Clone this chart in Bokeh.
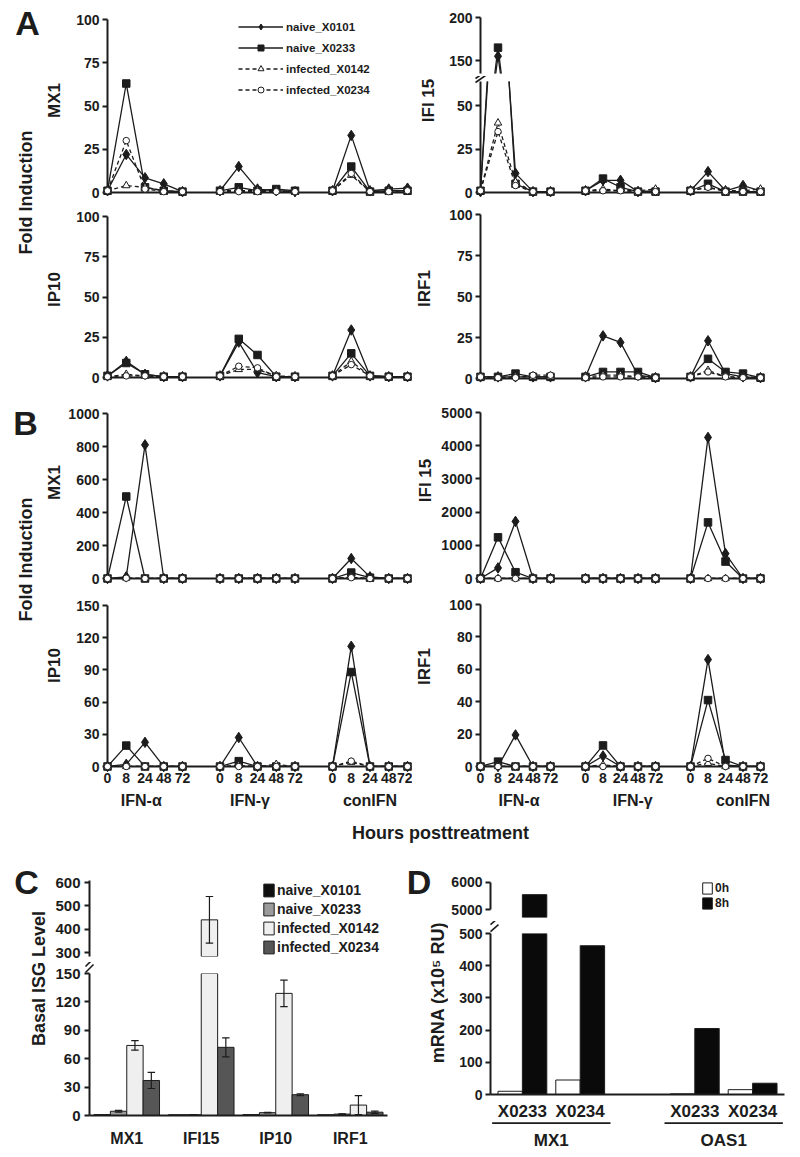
import math
from bokeh.plotting import figure
from bokeh.models import (Range1d, FixedTicker, LinearAxis, Legend, LegendItem,
                          ColumnDataSource, FactorRange, CDSView, BooleanFilter)
from bokeh.layouts import row, column
from bokeh.transform import dodge
from bokeh.core.properties import value
from bokeh.embed import file_html
from bokeh.resources import INLINE

FONT = "Liberation Sans"
INK = "#1c1c1c"

# ---------------------------------------------------------------- data
treatments = ["IFN-α", "IFN-γ", "conIFN"]
hours = ["0", "8", "24", "48", "72"]
series = ["naive_X0101", "naive_X0233", "infected_X0142", "infected_X0234"]

# values ordered IFN-α 0,8,24,48,72 | IFN-γ 0..72 | conIFN 0..72
A_MX1 = {
    "naive_X0101":    [1, 22, 8.5, 5, 0.5,   1, 15, 2, 1, 0.5,        1, 33, 1, 2, 2.5],
    "naive_X0233":    [1, 63, 3, 1, 0.5,     1, 3, 1, 2, 1,           1, 15, 0.5, 1, 1],
    "infected_X0142": [1, 4, 3, 1, 0.5,      1, 1, 1, 1, 0.5,         1, 10, 0.5, 1, 1],
    "infected_X0234": [1, 30, 2, 0.5, 0.5,   0.5, 0.5, 0.5, 0.5, 0.5, 1, 11, 0.5, 0.5, 1],
}
A_IFI15 = {
    "naive_X0101":    [0.5, 155, 11, 0.5, 0.5, 1, 7, 7, 0.5, 1,       1, 12, 1, 4, 1],
    "naive_X0233":    [1, 165, 5, 0.5, 0.5,    1, 8, 3, 0.5, 0.5,     1, 5, 0.5, 0.5, 0.5],
    "infected_X0142": [1, 40, 6, 0.5, 0.5,     1, 2, 1, 1, 2,         1, 3, 1, 1, 2],
    "infected_X0234": [1, 35, 4, 0.5, 0.5,     1, 1, 1, 0.5, 0.5,     1, 3, 0.5, 0.5, 0.5],
}
A_IP10 = {
    "naive_X0101":    [1, 10, 2, 0.5, 0.5,   1, 22, 3, 0.5, 0.5,      1, 29.5, 1, 0.5, 0.5],
    "naive_X0233":    [1, 9, 2, 0.5, 0.5,    1, 24, 14, 0.5, 0.5,     1, 15, 1, 0.5, 0.5],
    "infected_X0142": [0.5, 2, 1, 0.5, 0.5,  1, 5, 5, 1, 0.5,         1, 10, 1, 0.5, 0.5],
    "infected_X0234": [0.5, 1, 1, 0.5, 0.5,  1, 7, 6, 0.5, 0.5,       1, 8, 1, 0.5, 0.5],
}
A_IRF1 = {
    "naive_X0101":    [1, 1, 1, 1, 1,        1, 26, 22, 2, 0.5,       1, 23, 3, 1, 0.5],
    "naive_X0233":    [1, 1, 3, 1, 1,        1, 4, 4, 4, 0.5,         1, 12, 4, 3, 0.5],
    "infected_X0142": [0.5, 0.5, 1, 1, 1,    1, 2, 2, 1, 0.5,         1, 5, 1, 1, 0.5],
    "infected_X0234": [1, 0.5, 0.5, 2, 2,    0.5, 1, 1, 1, 0.5,       1, 4, 1, 0.5, 0.5],
}
B_MX1 = {
    "naive_X0101":    [0, 10, 810, 0, 0,     0, 0, 0, 0, 0,           0, 121, 10, 0, 0],
    "naive_X0233":    [0, 497, 0, 0, 0,      0, 0, 0, 0, 0,           0, 36, 5, 0, 0],
    "infected_X0142": [0, 3, 0, 0, 0,        0, 0, 0, 0, 0,           0, 8, 0, 0, 0],
    "infected_X0234": [0, 2, 0, 0, 0,        0, 0, 0, 0, 0,           0, 5, 0, 0, 0],
}
B_IFI15 = {
    "naive_X0101":    [0, 320, 1720, 0, 0,   0, 0, 0, 0, 0,           0, 4250, 750, 0, 0],
    "naive_X0233":    [0, 1240, 190, 0, 0,   0, 0, 0, 0, 0,           0, 1690, 510, 0, 0],
    "infected_X0142": [0, 0, 0, 0, 0,        0, 0, 0, 0, 0,           0, 0, 0, 0, 0],
    "infected_X0234": [0, 0, 0, 0, 0,        0, 0, 0, 0, 0,           0, 0, 0, 0, 0],
}
B_IP10 = {
    "naive_X0101":    [0, 2, 22.5, 0, 0,     0, 27, 0, 0, 0,          0, 112, 0, 0, 0],
    "naive_X0233":    [0, 19.5, 0, 0, 0,     0, 5, 0, 0, 0,           0, 88, 0, 0, 0],
    "infected_X0142": [0, 0, 0, 0, 0,        0, 1, 0, 2, 0,           0, 4, 0, 0, 0],
    "infected_X0234": [0, 0, 0, 0, 0,        0, 0, 0, 0, 0,           0, 5, 0, 0, 0],
}
B_IRF1 = {
    "naive_X0101":    [0, 0, 19.5, 0, 0,     0, 6.5, 0, 0, 0,         0, 66, 1, 0, 0],
    "naive_X0233":    [0, 3, 0, 0, 0,        0, 13, 0, 0, 0,          0, 41, 4, 0, 0],
    "infected_X0142": [0, 0, 0, 0, 0,        0, 1, 0, 0, 0,           0, 2, 0, 0, 0],
    "infected_X0234": [0, 0, 0, 0, 0,        0, 0, 0, 0, 0,           0, 5, 0, 0, 0],
}

genes_C = ["MX1", "IFI15", "IP10", "IRF1"]
basal_naive_X0101 = [1.0, 0.8, 1.0, 0.8]
basal_naive_X0233 = [4.5, 0.8, 3.0, 1.5]
basal_infected_X0142 = [74, 440, 129, 11]
basal_infected_X0234 = [37, 72, 22, 3.5]
err_naive_X0101 = [0, 0, 0, 0]
err_naive_X0233 = [1.0, 0, 0.3, 0.3]
err_infected_X0142 = [5, 100, 14, 10]
err_infected_X0234 = [8.5, 10, 1, 1.2]

genes_D = ["MX1", "OAS1"]
animals_D = ["X0233", "X0234"]
mrna_0h = [10, 45, 2, 15]
mrna_8h = [5550, 462, 205, 35]

# ---------------------------------------------------------------- helpers
x_idx = [t * 6 + h for t in range(len(treatments)) for h in range(len(hours))]

STYLE = {
    "naive_X0101": dict(marker="diamond", size=10.5, fill=INK, dash="solid"),
    "naive_X0233": dict(marker="square", size=7.5, fill=INK, dash="solid"),
    "infected_X0142": dict(marker="triangle", size=7.5, fill="white", dash="4 3"),
    "infected_X0234": dict(marker="circle", size=6.5, fill="white", dash="4 3"),
}


def make_fig(canvas, frame, xr, yr, px=True):
    """canvas / frame given as page-pixel boxes (x0, y0, x1, y1)."""
    cx0, cy0, cx1, cy1 = canvas
    fx0, fy0, fx1, fy1 = frame
    p = figure(width=cx1 - cx0, height=cy1 - cy0, x_range=xr, y_range=yr, title=None,
               output_backend="svg", toolbar_location=None, tools="",
               min_border_left=fx0 - cx0, min_border_right=cx1 - fx1,
               min_border_top=fy0 - cy0, min_border_bottom=cy1 - fy1)
    p.outline_line_color = None
    p.grid.visible = False
    if px:
        p.extra_x_ranges = {"px": Range1d(fx0, fx1)}
    p.extra_y_ranges = {"py": Range1d(fy1, fy0)}
    return p


def style_axis(ax, fs="14px"):
    ax.axis_line_color = INK
    ax.axis_line_width = 2
    ax.major_tick_line_color = INK
    ax.major_tick_line_width = 2
    ax.major_tick_in = 0
    ax.major_tick_out = 5
    ax.minor_tick_line_color = None
    ax.major_label_text_font = FONT
    ax.major_label_text_font_style = "bold"
    ax.major_label_text_font_size = fs
    ax.major_label_text_color = INK
    ax.major_label_standoff = 3


def with_breaks(vals):
    xs, ys = [], []
    for t in range(len(treatments)):
        for h in range(len(hours)):
            xs.append(t * 6 + h)
            ys.append(vals[t * len(hours) + h])
        if t < len(treatments) - 1:
            xs.append(float("nan"))
            ys.append(float("nan"))
    return xs, ys


def text_kw(size):
    return dict(text_align="center", text_baseline="middle", text_font=value(FONT),
                text_font_size=size, text_font_style="bold", text_color=INK)


def mark(p, x0, y0, x1, y1, **kw):
    p.segment(x0=x0, y0=y0, x1=x1, y1=y1, y_range_name="py", level="overlay",
              line_color=INK, line_width=1.6, **kw)


LEFT = (40, 107, 410, 412, 18.75)    # canvas x0, frame x0, frame x1, canvas x1, px per step
RIGHT = (412, 480, 763, 800, 17.5)


def line_panel(data, side, cy0, fy0, fy1, cy1, yr, yticks, label=None, label_xy=None,
               xlabels=False, grp_pos=None, hide_x=False):
    cx0, fx0, fx1, cx1, unit = side
    p = make_fig((cx0, cy0, cx1, cy1), (fx0, fy0, fx1, fy1),
                 Range1d(0, (fx1 - fx0) / unit), Range1d(*yr))
    items = []
    for name in series:
        st = STYLE[name]
        xs, ys = with_breaks(data[name])
        rl = p.line(xs, ys, line_color=INK, line_width=1.3, line_dash=st["dash"])
        rm = p.scatter(x_idx, data[name], marker=st["marker"], size=st["size"],
                       fill_color=st["fill"], line_color=INK, line_width=1,
                       level="overlay")
        items.append(LegendItem(label=name, renderers=[rl, rm]))
    ya = p.yaxis[0]
    style_axis(ya)
    ya.ticker = FixedTicker(ticks=yticks)
    if label:
        p.text(x=[label_xy[0]], y=[label_xy[1]], text=[label], angle=math.pi / 2,
               x_range_name="px", y_range_name="py", level="overlay", **text_kw("17px"))
    xa = p.xaxis[0]
    if hide_x:
        xa.visible = False
    else:
        style_axis(xa)
        xa.major_tick_out = 0
        xa.major_tick_line_color = None
        if xlabels:
            xa.ticker = FixedTicker(ticks=x_idx)
            xa.major_label_overrides = {x: hours[i % len(hours)] for i, x in enumerate(x_idx)}
            xa.major_label_standoff = 6
            ga = LinearAxis(ticker=FixedTicker(ticks=grp_pos),
                            major_label_overrides=dict(zip(grp_pos, treatments)))
            style_axis(ga, "16px")
            ga.axis_line_color = None
            ga.major_tick_line_color = None
            ga.major_tick_out = 0
            ga.major_label_standoff = 6
            p.add_layout(ga, "below")
        else:
            xa.ticker = FixedTicker(ticks=[])
    return p, items


def strip(x0, x1, y0, y1):
    p = figure(width=x1 - x0, height=y1 - y0, x_range=Range1d(x0, x1), y_range=Range1d(y1, y0),
               x_axis_type=None, y_axis_type=None, title=None, output_backend="svg",
               toolbar_location=None, tools="", min_border=0)
    p.outline_line_color = None
    return p


def put_text(p, x, y, txt, size, angle=0.0):
    p.text(x=[x], y=[y], text=[txt], angle=angle, **text_kw(size))


def style_legend(lg, gw, gh, lh, spacing, fs, standoff):
    lg.border_line_color = None
    lg.background_fill_alpha = 0
    lg.padding = 0
    lg.margin = 0
    lg.spacing = spacing
    lg.glyph_width = gw
    lg.glyph_height = gh
    lg.label_height = lh
    lg.label_standoff = standoff
    lg.label_text_font = FONT
    lg.label_text_font_size = fs
    lg.label_text_font_style = "bold"
    lg.label_text_color = INK


# ---------------------------------------------------------------- panels A / B
A_MX1_p, leg_items = line_panel(A_MX1, LEFT, 0, 19, 192, 202, (0, 100), [0, 25, 50, 75, 100],
                                "MX1", (53.5, 100))
lg = Legend(items=leg_items, location=(131, 95))
style_legend(lg, 45, 15, 15, 6, "11.5px", 3)
A_MX1_p.add_layout(lg)

A_IP10_p, _ = line_panel(A_IP10, LEFT, 202, 216, 377, 392, (0, 100), [0, 25, 50, 75, 100],
                         "IP10", (53.5, 289))
B_MX1_p, _ = line_panel(B_MX1, LEFT, 392, 413, 578, 590, (0, 1000), [0, 200, 400, 600, 800, 1000],
                        "MX1", (53.5, 482))
B_IP10_p, _ = line_panel(B_IP10, LEFT, 590, 605, 766, 816, (0, 150), [0, 30, 60, 90, 120, 150],
                         "IP10", (53.5, 665), xlabels=True, grp_pos=[1.8, 7.6, 14.0])

A_IFI_up, _ = line_panel(A_IFI15, RIGHT, 0, 17, 73, 76, (135, 200), [150, 200], hide_x=True)
A_IFI_lo, _ = line_panel(A_IFI15, RIGHT, 76, 81, 192, 202, (0, 63.8), [0, 25, 50],
                         "IFI 15", (427.5, 100))
mark(A_IFI_lo, [475, 475], [78, 82], [485, 485], [71, 75], x_range_name="px")
A_IRF1_p, _ = line_panel(A_IRF1, RIGHT, 202, 214, 378, 392, (0, 100), [0, 25, 50, 75, 100],
                         "IRF1", (423.5, 288))
B_IFI15_p, _ = line_panel(B_IFI15, RIGHT, 392, 412, 578, 590, (0, 5000),
                          [0, 1000, 2000, 3000, 4000, 5000], "IFI 15", (425, 480))
B_IRF1_p, _ = line_panel(B_IRF1, RIGHT, 590, 604, 766, 816, (0, 100), [0, 20, 40, 60, 80, 100],
                         "IRF1", (423.5, 666), xlabels=True, grp_pos=[2.2, 8.7, 15.0])

strip_AB = strip(0, 40, 0, 816)
put_text(strip_AB, 27, 22, "A", "34px")
put_text(strip_AB, 25, 422, "B", "34px")
put_text(strip_AB, 25.5, 192, "Fold Induction", "18px", math.pi / 2)
put_text(strip_AB, 25.5, 559, "Fold Induction", "18px", math.pi / 2)

hours_strip = strip(0, 800, 816, 843)
put_text(hours_strip, 440, 832, "Hours posttreatment", "18px")

# ---------------------------------------------------------------- panel C
xr_C = FactorRange(*genes_C, range_padding=0)
C_OFF = [-0.33, -0.11, 0.11, 0.33]
C_W = 0.22
C_COL = ["#101010", "#9b9b9b", "#efefef", "#565656"]
c_vals = [basal_naive_X0101, basal_naive_X0233, basal_infected_X0142, basal_infected_X0234]
c_errs = [err_naive_X0101, err_naive_X0233, err_infected_X0142, err_infected_X0234]
c_data = dict(gene=genes_C)
for k, name in enumerate(series):
    c_data[name] = c_vals[k]
    c_data[name + "_lo"] = [v - e for v, e in zip(c_vals[k], c_errs[k])]
    c_data[name + "_hi"] = [v + e for v, e in zip(c_vals[k], c_errs[k])]
src_C = ColumnDataSource(c_data)


def c_draw(p, floor):
    proxies = []
    for k, name in enumerate(series):
        kw = dict(x=dodge("gene", C_OFF[k], range=xr_C), top=name, bottom=0, width=C_W,
                  source=src_C, fill_color=C_COL[k], line_color=INK, line_width=1)
        view = CDSView(filter=BooleanFilter([v > floor for v in c_vals[k]]))
        p.vbar(view=view, **kw)
        proxies.append(p.vbar(visible=False, **kw))   # legend swatch only
    for k, name in enumerate(series):
        if max(c_errs[k]) == 0:
            continue
        view = CDSView(filter=BooleanFilter([v + e > floor for v, e in zip(c_vals[k], c_errs[k])]))
        p.segment(x0=dodge("gene", C_OFF[k], range=xr_C), y0=name + "_lo",
                  x1=dodge("gene", C_OFF[k], range=xr_C), y1=name + "_hi",
                  source=src_C, view=view, line_color=INK, line_width=1.2)
        for end in ("_lo", "_hi"):
            p.segment(x0=dodge("gene", C_OFF[k] - 0.05, range=xr_C), y0=name + end,
                      x1=dodge("gene", C_OFF[k] + 0.05, range=xr_C), y1=name + end,
                      source=src_C, view=view, line_color=INK, line_width=1.2)
    return proxies


C_up = make_fig((48, 843, 400, 962), (89, 880, 387, 956), xr_C, Range1d(283, 608.6), px=False)
c_rs = c_draw(C_up, 283)
style_axis(C_up.yaxis[0], "15px")
C_up.yaxis[0].ticker = FixedTicker(ticks=[300, 400, 500, 600])
C_up.yaxis[0].major_label_standoff = 4
C_up.xaxis.visible = False
lgc = Legend(items=[LegendItem(label=n, renderers=[r]) for n, r in zip(series, c_rs)],
             location=(173, 1))
style_legend(lgc, 13, 16, 16, 3, "14px", 2)
C_up.add_layout(lgc)

C_lo = make_fig((48, 962, 400, 1152), (89, 973, 387, 1115), xr_C, Range1d(0, 150), px=False)
c_draw(C_lo, -1)
style_axis(C_lo.yaxis[0], "15px")
C_lo.yaxis[0].ticker = FixedTicker(ticks=[0, 30, 60, 90, 120, 150])
C_lo.yaxis[0].major_label_standoff = 4
style_axis(C_lo.xaxis[0], "16px")
C_lo.xaxis[0].major_tick_line_color = None
C_lo.xaxis[0].major_tick_out = 0
C_lo.xaxis[0].major_label_standoff = 14
src_bc = ColumnDataSource(dict(g=[genes_C[0]] * 2, y0=[966, 972], y1=[958, 964]))
mark(C_lo, dodge("g", -0.5 - 4 / 74.5, range=xr_C), "y0", dodge("g", -0.5 + 4 / 74.5, range=xr_C),
     "y1", source=src_bc)

strip_C = strip(0, 48, 843, 1152)
put_text(strip_C, 26, 881, "C", "34px")
put_text(strip_C, 38, 978, "Basal ISG Level", "18px", math.pi / 2)

# ---------------------------------------------------------------- panel D
factors_D = [(g, a) for g in genes_D for a in animals_D]
xr_D = FactorRange(*factors_D, factor_padding=0.184, group_padding=1.347,
                   range_padding=0.153, range_padding_units="absolute")
src_D = ColumnDataSource(dict(x=factors_D, h0=mrna_0h, h8=mrna_8h))


def d_draw(p, floor):
    k0 = dict(x=dodge("x", -0.25, range=xr_D), top="h0", bottom=0, width=0.5, source=src_D,
              fill_color="white", line_color=INK, line_width=1)
    k8 = dict(x=dodge("x", 0.25, range=xr_D), top="h8", bottom=0, width=0.5, source=src_D,
              fill_color="#0a0a0a", line_color=INK, line_width=1)
    p.vbar(view=CDSView(filter=BooleanFilter([v > floor for v in mrna_0h])), **k0)
    p.vbar(view=CDSView(filter=BooleanFilter([v > floor for v in mrna_8h])), **k8)
    return p.vbar(visible=False, **k0), p.vbar(visible=False, **k8)   # legend swatches


D_up = make_fig((448, 843, 800, 921), (489, 880, 784, 917), xr_D, Range1d(4704, 6074), px=False)
d0, d8 = d_draw(D_up, 4704)
style_axis(D_up.yaxis[0], "14px")
D_up.yaxis[0].ticker = FixedTicker(ticks=[5000, 6000])
D_up.yaxis[0].bounds = (5000, 6000)
D_up.xaxis.visible = False
lgd = Legend(items=[LegendItem(label="0h", renderers=[d0]), LegendItem(label="8h", renderers=[d8])],
             location=(211, 7))
style_legend(lgd, 12, 14, 14, 1, "12px", 2)
D_up.add_layout(lgd)

D_lo = make_fig((448, 921, 800, 1152), (489, 933, 784, 1096), xr_D, Range1d(0, 500), px=False)
d_draw(D_lo, -1)
style_axis(D_lo.yaxis[0], "14px")
D_lo.yaxis[0].ticker = FixedTicker(ticks=[0, 100, 200, 300, 400, 500])
xa = D_lo.xaxis[0]
style_axis(xa, "17px")
xa.major_tick_line_color = None
xa.major_tick_out = 0
xa.major_label_standoff = 7
xa.group_text_font = FONT
xa.group_text_font_size = "17px"
xa.group_text_font_style = "bold"
xa.group_text_color = INK
xa.separator_line_color = None
src_bd = ColumnDataSource(dict(g=[factors_D[0]] * 2, y0=[924, 931], y1=[917, 924]))
mark(D_lo, dodge("g", -0.653, range=xr_D), "y0", dodge("g", -0.653 + 8 / 49, range=xr_D), "y1",
     source=src_bd)
src_u = ColumnDataSource(dict(a=[(g, animals_D[0]) for g in genes_D],
                              b=[(g, animals_D[-1]) for g in genes_D],
                              y=[1125] * len(genes_D)))
D_lo.segment(x0=dodge("a", -0.62, range=xr_D), x1=dodge("b", 0.62, range=xr_D),
             y0="y", y1="y", source=src_u, y_range_name="py", level="overlay",
             line_color=INK, line_width=1.8)

strip_D = strip(400, 448, 843, 1152)
put_text(strip_D, 418.5, 881, "D", "34px")
put_text(strip_D, 437, 992, "mRNA (x10⁵ RU)", "18px", math.pi / 2)

# ---------------------------------------------------------------- layout
ab = row(strip_AB,
         column(A_MX1_p, A_IP10_p, B_MX1_p, B_IP10_p, spacing=0),
         column(A_IFI_up, A_IFI_lo, A_IRF1_p, B_IFI15_p, B_IRF1_p, spacing=0),
         spacing=0)
cd = row(strip_C, column(C_up, C_lo, spacing=0), strip_D, column(D_up, D_lo, spacing=0), spacing=0)
page = column(ab, hours_strip, cd, spacing=0)

open("out.html", "w").write(file_html(page, INLINE))
